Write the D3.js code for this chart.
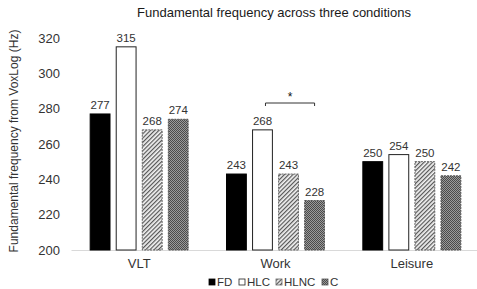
<html>
<head>
<script src="https://cdn.jsdelivr.net/npm/d3@7"></script>
<style>
  body { margin: 0; background: #fff; }
  text { font-family: "Liberation Sans", Arial, sans-serif; }
</style>
</head>
<body>
<script type="text/javascript">

// chart values
var categories = ["VLT", "Work", "Leisure"];
var seriesNames = ["FD", "HLC", "HLNC", "C"];
var FD   = [277, 243, 250];
var HLC  = [315, 268, 254];
var HLNC = [268, 243, 250];
var C    = [274, 228, 242];
var yTicks = [200, 220, 240, 260, 280, 300, 320];

var seriesValues = [FD, HLC, HLNC, C];

window.onload = function()
{
    var width = 477, height = 289;
    var svg = d3.select("body").append("svg").attr("width", width).attr("height", height);

    // patterns
    var defs = svg.append("defs");
    var hatch = defs.append("pattern").attr("id", "hatch").attr("patternUnits", "userSpaceOnUse")
        .attr("width", 3).attr("height", 3).attr("patternTransform", "rotate(45)");
    hatch.append("rect").attr("width", 3).attr("height", 3).attr("fill", "#f2f2f2");
    hatch.append("rect").attr("width", 1.2).attr("height", 3).attr("fill", "#555");

    var dots = defs.append("pattern").attr("id", "dots").attr("patternUnits", "userSpaceOnUse")
        .attr("width", 2).attr("height", 2);
    dots.append("rect").attr("width", 2).attr("height", 2).attr("fill", "#9a9a9a");
    dots.append("rect").attr("width", 1).attr("height", 1).attr("fill", "#4a4a4a");
    dots.append("rect").attr("x", 1).attr("y", 1).attr("width", 1).attr("height", 1).attr("fill", "#4a4a4a");

    var fills = ["#000", "#fff", "url(#hatch)", "url(#dots)"];
    var strokes = ["#000", "#222", "#666", "#555"];
    var dashes = [null, null, "2,1", "2,1"];

    //The scales.
    var x = d3.scaleBand().domain(categories).range([71, 480]);
    var xInner = d3.scaleBand().domain(seriesNames).range([0, 99]).paddingInner(0.2);
    var groupOffset = (x.bandwidth() - 99) / 2;
    var y = d3.scaleLinear().domain([200, 320]).range([250, 38]);

    //Title.
    svg.append("text").text("Fundamental frequency across three conditions")
        .attr("x", 274).attr("y", 17).attr("text-anchor", "middle")
        .attr("font-size", "13px").attr("fill", "#1a1a1a");

    //Y axis label.
    svg.append("text").text("Fundamental frequency from VoxLog (Hz)")
        .attr("transform", "translate(18,141) rotate(-90)")
        .attr("text-anchor", "middle").attr("font-size", "12px").attr("fill", "#333");

    //Y axis ticks (no line).
    var yAxis = svg.append("g").attr("transform", "translate(62,0)")
        .call(d3.axisLeft(y).tickValues(yTicks).tickSize(0).tickPadding(2));
    yAxis.select(".domain").remove();
    yAxis.selectAll("text").attr("font-size", "13px").attr("fill", "#333")
        .attr("font-family", "Liberation Sans, Arial, sans-serif");

    //X axis.
    var xAxis = svg.append("g").attr("transform", "translate(0,250)")
        .call(d3.axisBottom(x).tickSize(0).tickPadding(9));
    xAxis.select(".domain").attr("stroke", "#d9d9d9").attr("stroke-width", 1.2);
    xAxis.selectAll("text").attr("font-size", "13px").attr("fill", "#333")
        .attr("font-family", "Liberation Sans, Arial, sans-serif");

    //Draw the bars and value labels.
    seriesNames.forEach(function(s, si)
    {
        var g = svg.append("g");
        g.selectAll("rect").data(seriesValues[si]).enter().append("rect")
            .attr("x", function(d, i) { return x(categories[i]) + groupOffset + xInner(s) + 0.5; })
            .attr("y", function(d) { return y(d); })
            .attr("width", xInner.bandwidth() - 1)
            .attr("height", function(d) { return y(200) - y(d); })
            .attr("fill", fills[si])
            .attr("stroke", strokes[si])
            .attr("stroke-width", 1)
            .attr("stroke-dasharray", dashes[si]);

        g.selectAll("text").data(seriesValues[si]).enter().append("text")
            .text(function(d) { return d; })
            .attr("x", function(d, i) { return x(categories[i]) + groupOffset + xInner(s) + xInner.bandwidth() / 2; })
            .attr("y", function(d) { return y(d) - 5; })
            .attr("text-anchor", "middle")
            .attr("font-size", "11.5px").attr("fill", "#333");
    });

    //Significance bracket between Work HLC and Work C.
    var bx1 = x("Work") + groupOffset + xInner("HLC") + xInner.bandwidth() / 2 + 3;
    var bx2 = x("Work") + groupOffset + xInner("C") + xInner.bandwidth() / 2;
    svg.append("path")
        .attr("d", "M" + bx1 + ",106 V103 H" + bx2 + " V106")
        .attr("fill", "none").attr("stroke", "#333").attr("stroke-width", 1);
    svg.append("text").text("*")
        .attr("x", (bx1 + bx2) / 2).attr("y", 101).attr("text-anchor", "middle")
        .attr("font-size", "12px").attr("fill", "#111");

    //Legend.
    var legendX = [209, 239, 276, 322];
    var legend = svg.append("g");
    seriesNames.forEach(function(s, si)
    {
        legend.append("rect")
            .attr("x", legendX[si]).attr("y", 279)
            .attr("width", 6).attr("height", 6)
            .attr("fill", fills[si]).attr("stroke", strokes[si]).attr("stroke-width", 0.8);
        legend.append("text").text(s)
            .attr("x", legendX[si] + 8).attr("y", 286)
            .attr("font-size", "11.5px").attr("fill", "#333");
    });
};

</script>
</body>
</html>
